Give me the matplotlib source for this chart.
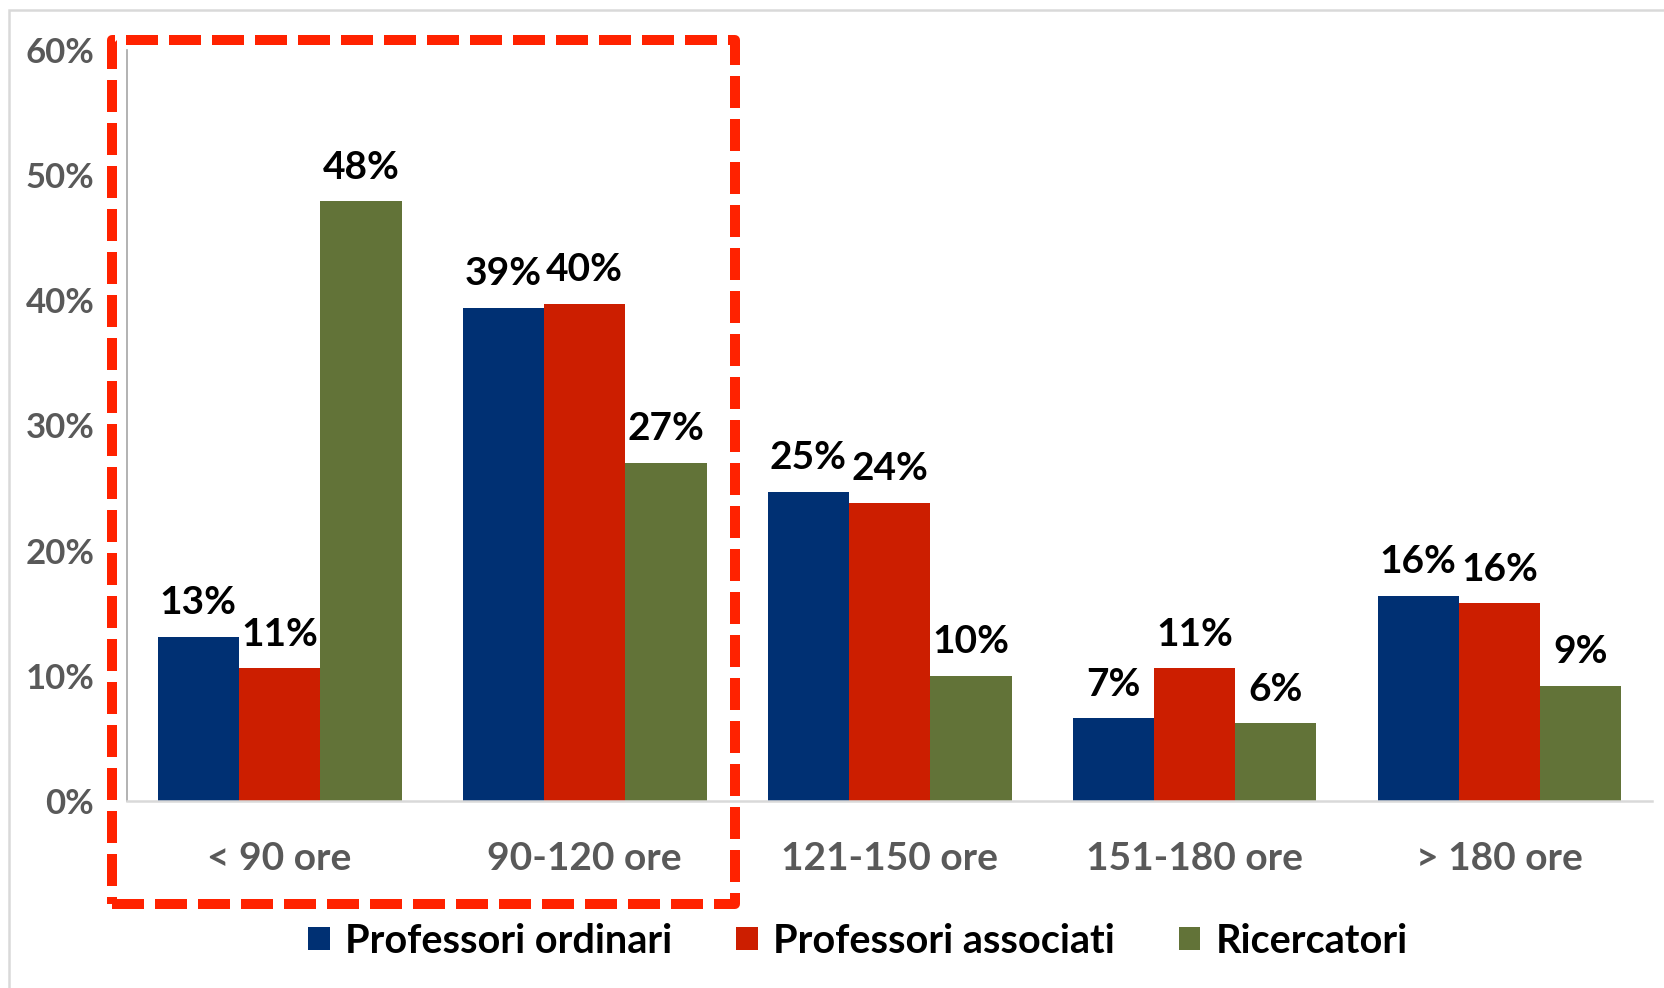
import numpy as np
import matplotlib.pyplot as plt
from matplotlib.patches import Rectangle, Patch

plt.rcParams['font.family'] = ['Lato', 'DejaVu Sans']

categories = ['< 90 ore', '90-120 ore', '121-150 ore', '151-180 ore', '> 180 ore']
series_names = ['Professori ordinari', 'Professori associati', 'Ricercatori']
ordinari = [13.1, 39.4, 24.7, 6.6, 16.4]
associati = [10.6, 39.7, 23.8, 10.6, 15.8]
ricercatori = [47.9, 27.0, 10.0, 6.2, 9.2]
colors = ['#003073', '#cc1e00', '#627338']

W, H = 1664, 988
fig = plt.figure(figsize=(W / 100, H / 100), dpi=100)
ax = fig.add_axes([127 / W, (H - 801) / H, (1652 - 127) / W, 751 / H])

x = np.arange(len(categories))
bw = 0.8 / 3
for i, (vals, name, c) in enumerate(zip([ordinari, associati, ricercatori], series_names, colors)):
    pos = x + (i - 1) * bw
    ax.bar(pos, vals, width=bw, color=c, label=name, zorder=2)
    for p, v in zip(pos, vals):
        ax.annotate(f'{v:.0f}%', (p, v), xytext=(0, 12), textcoords='offset points',
                    ha='center', va='bottom', fontsize=28, fontweight='bold', color='black')

ax.set_xlim(-0.5, len(categories) - 0.5)
ax.set_ylim(0, 60)
ax.set_yticks(np.arange(0, 61, 10))
ax.set_yticklabels([f'{t}%' for t in range(0, 61, 10)], fontsize=25, fontweight='bold', color='#595959')
ax.set_xticks(x)
ax.set_xticklabels(categories, fontsize=28, fontweight='bold', color='#595959')
ax.tick_params(axis='y', length=0, pad=23.5)
ax.tick_params(axis='x', length=0, pad=29)
for s in ['top', 'right']:
    ax.spines[s].set_visible(False)
ax.spines['left'].set_color('#a6a6a6')
ax.spines['left'].set_linewidth(1.2)
ax.spines['bottom'].set_color('#d9d9d9')
ax.spines['bottom'].set_linewidth(1.8)

handles = [Patch(facecolor=c) for c in colors]
fig.legend(handles, series_names, loc='center', bbox_to_anchor=(858 / W, 47 / H), ncol=3,
           frameon=False, prop={'size': 28.5, 'weight': 'bold'}, handlelength=0.55, handleheight=0.55,
           handletextpad=0.4, columnspacing=1.6)

# chart area border
fig.patches.append(Rectangle((9 / W, -0.1), 1.2, (H - 10) / H + 0.1, transform=fig.transFigure,
                             fill=False, edgecolor='#d9d9d9', linewidth=1.8))

# red dashed highlight box
box = Rectangle((112 / W, (H - 904) / H), (735 - 112) / W, (904 - 40) / H, transform=fig.transFigure,
                fill=False, edgecolor='#ff2200', linewidth=7.2, linestyle=(0, (3.2, 1.1)),
                joinstyle='round', zorder=5)
fig.patches.append(box)

fig.savefig('out.png', dpi=100, facecolor='white')
